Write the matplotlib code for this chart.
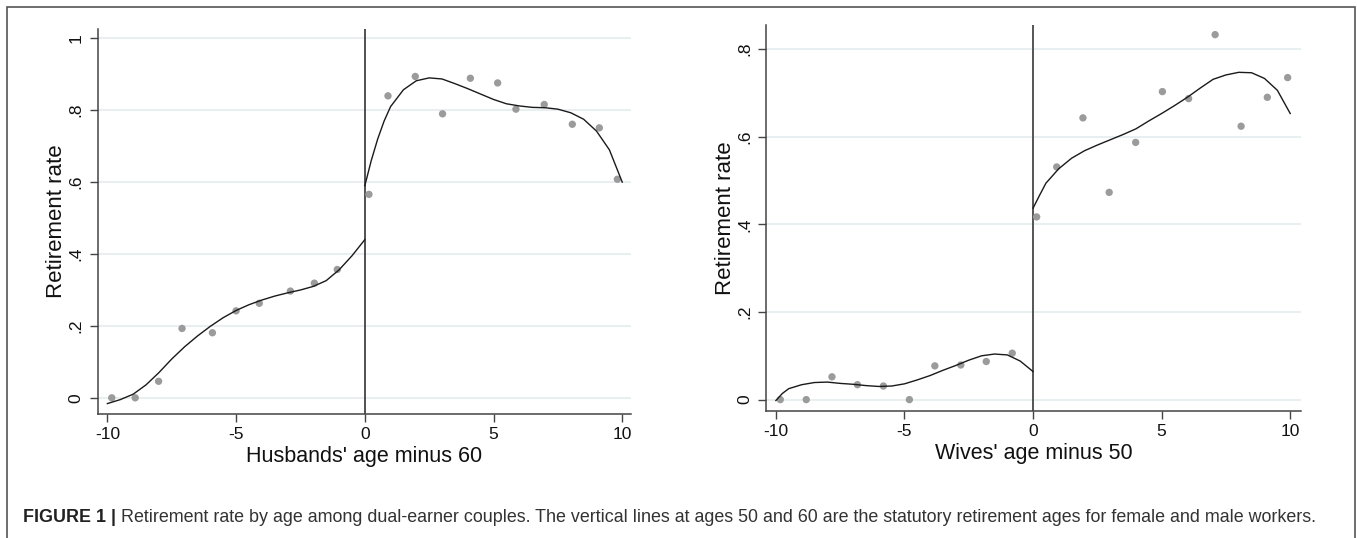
import matplotlib
matplotlib.use("Agg")
import matplotlib.pyplot as plt
from matplotlib.patches import Rectangle

plt.rcParams['font.family'] = ['Liberation Sans', 'DejaVu Sans']

# ---- data: husbands (age minus 60) ----
husb_x = [-9.83, -8.92, -8.01, -7.10, -5.92, -5.0, -4.10, -2.89, -1.96, -1.07,
          0.16, 0.90, 1.96, 3.02, 4.10, 5.16, 5.87, 6.97, 8.06, 9.11, 9.81]
husb_y = [0.0, 0.0, 0.046, 0.193, 0.181, 0.242, 0.263, 0.297, 0.319, 0.357,
          0.566, 0.840, 0.894, 0.790, 0.889, 0.876, 0.803, 0.816, 0.761, 0.751, 0.608]
husb_fit_pre_x = [-10, -9.5, -9, -8.5, -8, -7.5, -7, -6.5, -6, -5.5, -5, -4.5, -4,
                  -3.5, -3, -2.5, -2, -1.5, -1, -0.5, 0]
husb_fit_pre_y = [-0.016, -0.005, 0.010, 0.036, 0.070, 0.108, 0.142, 0.172, 0.199,
                  0.223, 0.243, 0.259, 0.272, 0.283, 0.292, 0.300, 0.310, 0.326,
                  0.356, 0.395, 0.440]
husb_fit_post_x = [0, 0.25, 0.5, 0.75, 1, 1.5, 2, 2.5, 3, 3.5, 4, 4.5, 5, 5.5, 6,
                   6.5, 7, 7.5, 8, 8.5, 9, 9.5, 10]
husb_fit_post_y = [0.59, 0.66, 0.72, 0.77, 0.81, 0.857, 0.882, 0.890, 0.887, 0.874,
                   0.860, 0.845, 0.830, 0.818, 0.812, 0.808, 0.807, 0.803, 0.793,
                   0.775, 0.742, 0.690, 0.60]

# ---- data: wives (age minus 50) ----
wife_x = [-9.83, -8.82, -7.82, -6.83, -5.82, -4.81, -3.82, -2.81, -1.82, -0.81,
          0.14, 0.92, 1.94, 2.96, 3.99, 5.03, 6.05, 7.08, 8.09, 9.11, 9.90]
wife_y = [0.0, 0.0, 0.052, 0.034, 0.031, 0.0, 0.077, 0.079, 0.087, 0.106,
          0.417, 0.531, 0.643, 0.473, 0.587, 0.703, 0.687, 0.833, 0.624, 0.690, 0.735]
wife_fit_pre_x = [-10, -9.75, -9.5, -9, -8.5, -8, -7.5, -7, -6.5, -6, -5.5, -5, -4.5, -4,
                  -3.5, -3, -2.5, -2, -1.5, -1, -0.5, 0]
wife_fit_pre_y = [-0.002, 0.014, 0.025, 0.034, 0.039, 0.040, 0.037, 0.035, 0.032, 0.030,
                  0.031, 0.036, 0.045, 0.055, 0.067, 0.078, 0.090, 0.100, 0.104,
                  0.102, 0.088, 0.064]
wife_fit_post_x = [0, 0.25, 0.5, 1, 1.5, 2, 2.5, 3, 3.5, 4, 4.5, 5, 5.5, 6, 6.5, 7,
                   7.5, 8, 8.5, 9, 9.5, 10]
wife_fit_post_y = [0.437, 0.466, 0.494, 0.527, 0.551, 0.568, 0.581, 0.593, 0.605,
                   0.618, 0.636, 0.653, 0.671, 0.690, 0.711, 0.731, 0.741, 0.747,
                   0.746, 0.733, 0.706, 0.653]

x_ticks = [-10, -5, 0, 5, 10]
husb_yticks = [0, 0.2, 0.4, 0.6, 0.8, 1.0]
husb_yticklabels = ['0', '.2', '.4', '.6', '.8', '1']
wife_yticks = [0, 0.2, 0.4, 0.6, 0.8]
wife_yticklabels = ['0', '.2', '.4', '.6', '.8']

caption_bold = "FIGURE 1 |"
caption_text = ("Retirement rate by age among dual-earner couples. The vertical lines at ages 50 "
                "and 60 are the statutory retirement ages for female and male workers.")

W, H = 1357, 538
fig = plt.figure(figsize=(W / 100, H / 100), dpi=100)
fig.patch.set_facecolor('white')

def px_axes(x0, x1, ytop, ybot):
    return fig.add_axes([x0 / W, 1 - ybot / H, (x1 - x0) / W, (ybot - ytop) / H])

ax1 = px_axes(97.6, 631, 29, 414)
ax2 = px_axes(766.4, 1300.5, 25, 411)

grid_c = '#e6eef0'
axis_c = '#444444'

def style(ax, xs, ys, fpx, fpy, fqx, fqy, yticks, ylabels, ylim, xlim, xlabel, vcol, vlw):
    for t in yticks:
        ax.axhline(t, color=grid_c, lw=1.3, zorder=0)
    ax.axvline(0, color=vcol, lw=vlw, zorder=2)
    ax.scatter(xs, ys, s=28, color='#9b9b9b', edgecolors='none', zorder=3)
    ax.plot(fpx, fpy, color='#1a1a1a', lw=1.0, zorder=4)
    ax.plot(fqx, fqy, color='#1a1a1a', lw=1.0, zorder=4)
    ax.set_xlim(*xlim)
    ax.set_ylim(*ylim)
    ax.set_xticks(x_ticks)
    ax.set_xticklabels([str(v) for v in x_ticks])
    ax.set_yticks(yticks)
    ax.set_yticklabels(ylabels, rotation=90, va='center')
    for s in ['top', 'right']:
        ax.spines[s].set_visible(False)
    for s in ['left', 'bottom']:
        ax.spines[s].set_color(axis_c)
        ax.spines[s].set_linewidth(1.1)
    ax.tick_params(direction='out', length=6, width=1.0, color=axis_c,
                   labelsize=12.5, labelcolor='#111111')
    ax.tick_params(axis='x', pad=3.5)
    ax.tick_params(axis='y', pad=4)
    ax.set_xlabel(xlabel, fontsize=15.5, color='#111111', labelpad=2.5)
    ax.set_ylabel('Retirement rate', fontsize=16, color='#111111', labelpad=1)

style(ax1, husb_x, husb_y, husb_fit_pre_x, husb_fit_pre_y, husb_fit_post_x, husb_fit_post_y,
      husb_yticks, husb_yticklabels, (-0.045, 1.026), (-10.38, 10.34),
      "Husbands' age minus 60", '#222222', 1.1)
style(ax2, wife_x, wife_y, wife_fit_pre_x, wife_fit_pre_y, wife_fit_post_x, wife_fit_post_y,
      wife_yticks, wife_yticklabels, (-0.026, 0.855), (-10.37, 10.40),
      "Wives' age minus 50", '#555555', 1.4)

# outer frame
fig.patches.append(Rectangle((7.3 / W, -0.05), (1354.7 - 7.3) / W, 1.05 - 6.7 / H,
                             transform=fig.transFigure, fill=False,
                             edgecolor='#555555', lw=1.2))

# caption
cap_y = 1 - 517 / H
fs = 11.5
t1 = fig.text(22.7 / W, cap_y, caption_bold, fontsize=fs, fontweight='bold',
              color='#222222', va='center', ha='left')
fig.canvas.draw()
r = fig.canvas.get_renderer()
bb = t1.get_window_extent(renderer=r)
t2 = fig.text((bb.x1 + 5) / W, cap_y, caption_text, fontsize=fs,
              color='#333333', va='center', ha='left')
fig.canvas.draw()
bb2 = t2.get_window_extent(renderer=r)
target_end = 1324
scale = (target_end - 22.7) / (bb2.x1 - bb.x0)
fs2 = fs * scale
t1.set_fontsize(fs2)
fig.canvas.draw()
bb = t1.get_window_extent(renderer=r)
t2.set_fontsize(fs2)
t2.set_x((bb.x1 + 5) / W)

fig.savefig('out.png', dpi=100, facecolor='white')
